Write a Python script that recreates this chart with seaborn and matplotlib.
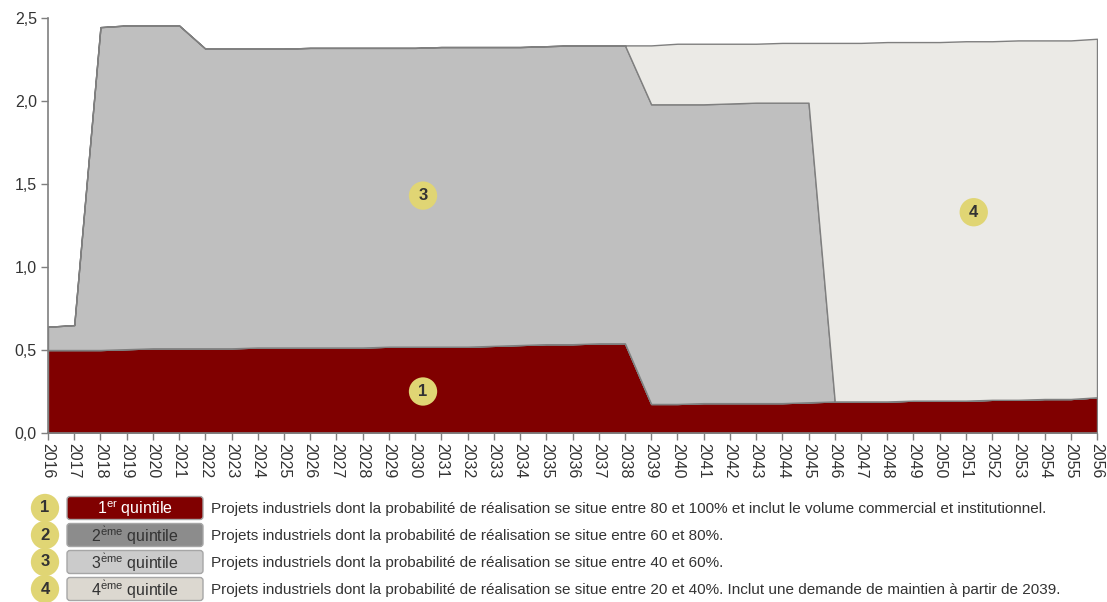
import matplotlib
matplotlib.use("Agg")
import matplotlib.pyplot as plt
from matplotlib.patches import FancyBboxPatch
from matplotlib.ticker import FuncFormatter, MultipleLocator
import seaborn as sns

# Years of the projection
years = list(range(2016, 2057))

# Volume per quintile (layer thickness)
q1 = [0.500, 0.500, 0.500, 0.505, 0.510, 0.510, 0.510, 0.510, 0.515, 0.515,
      0.515, 0.515, 0.515, 0.520, 0.520, 0.520, 0.520, 0.525, 0.530, 0.535,
      0.535, 0.540, 0.540,
      0.175, 0.175, 0.180, 0.180, 0.180, 0.180, 0.185, 0.190, 0.190, 0.190,
      0.195, 0.195, 0.195, 0.200, 0.200, 0.205, 0.205, 0.215]
q2 = [0.0] * 41
q3 = [0.140, 0.150, 1.945, 1.950, 1.945, 1.945, 1.805, 1.805, 1.800, 1.800,
      1.805, 1.805, 1.805, 1.800, 1.800, 1.805, 1.805, 1.800, 1.795, 1.795,
      1.800, 1.795, 1.795,
      1.805, 1.805, 1.800, 1.805, 1.810, 1.810, 1.805,
      0, 0, 0, 0, 0, 0, 0, 0, 0, 0, 0]
q4 = [0] * 23 + [0.355, 0.365, 0.365, 0.360, 0.355, 0.360, 0.360,
                 2.160, 2.160, 2.165, 2.160, 2.160, 2.165, 2.160, 2.165,
                 2.160, 2.160, 2.160]

quintile_labels = [r"1$^{\mathrm{er}}$ quintile", r"2$^{\mathrm{\grave{e}me}}$ quintile",
                   r"3$^{\mathrm{\grave{e}me}}$ quintile", r"4$^{\mathrm{\grave{e}me}}$ quintile"]
descriptions = [
    "Projets industriels dont la probabilité de réalisation se situe entre 80 et 100% et inclut le volume commercial et institutionnel.",
    "Projets industriels dont la probabilité de réalisation se situe entre 60 et 80%.",
    "Projets industriels dont la probabilité de réalisation se situe entre 40 et 60%.",
    "Projets industriels dont la probabilité de réalisation se situe entre 20 et 40%. Inclut une demande de maintien à partir de 2039.",
]

fills = ["#800000", "#8c8c8c", "#bfbfbf", "#ebeae6"]
legend_fills = ["#800000", "#8c8c8c", "#cbcbcb", "#dcd8d0"]
legend_text_colors = ["white", "#333333", "#333333", "#333333"]
badge = "#e0d574"
edge = "#7f7f7f"
text_col = "#333333"

sns.set_theme(style="white")
plt.rcParams["font.family"] = ["Liberation Sans", "DejaVu Sans"]
plt.rcParams["mathtext.fontset"] = "custom"
plt.rcParams["mathtext.rm"] = "Liberation Sans"

fig = plt.figure(figsize=(11.07, 6.02), dpi=100)
ax = fig.add_axes([48 / 1107, 1 - 433 / 602, (1097 - 48) / 1107, (433 - 18) / 602])

ax.stackplot(years, q1, q2, q3, q4, colors=fills, edgecolor=edge, linewidth=1.0)

ax.set_xlim(2016, 2056)
ax.set_ylim(0, 2.5)
ax.yaxis.set_major_locator(MultipleLocator(0.5))
ax.yaxis.set_major_formatter(FuncFormatter(lambda v, p: f"{v:.1f}".replace(".", ",")))
ax.set_xticks(years)
ax.set_xticklabels([str(y) for y in years], rotation=-90)
ax.tick_params(axis="both", which="major", length=5, width=1, color=edge,
               labelcolor=text_col, labelsize=11.5, direction="out",
               bottom=True, left=True)
ax.tick_params(axis="x", pad=2)
ax.tick_params(axis="y", pad=3)
for side in ("top", "right"):
    ax.spines[side].set_visible(False)
for side in ("left", "bottom"):
    ax.spines[side].set_color(edge)
    ax.spines[side].set_linewidth(1.2)
ax.grid(False)


def badge_text(x, y, label, transform):
    fig.text(x, y, label, transform=transform, ha="center", va="center",
             fontsize=12, fontweight="bold", color=text_col,
             bbox=dict(boxstyle="circle,pad=0.4", fc=badge, ec="none"))


# Numbered markers on the areas
badge_text(2030.3, 1.43, "3", ax.transData)
badge_text(2030.3, 0.25, "1", ax.transData)
badge_text(2051.3, 1.33, "4", ax.transData)

# Legend rows below the chart (positions in inches from the bottom-left)
row_y = [508, 535, 562, 589]
for i, yp in enumerate(row_y):
    yc = (602 - yp) / 100
    badge_text(45 / 100, yc, str(i + 1), fig.dpi_scale_trans)
    box = FancyBboxPatch((67 / 100, yc - 0.115), (203 - 67) / 100, 0.23,
                         boxstyle="round,pad=0,rounding_size=0.03",
                         transform=fig.dpi_scale_trans,
                         fc=legend_fills[i], ec="#a6a6a6", lw=1.0)
    fig.add_artist(box)
    fig.text(135 / 100, yc - 0.01, quintile_labels[i], transform=fig.dpi_scale_trans,
             ha="center", va="center", fontsize=11.5, color=legend_text_colors[i])
    fig.text(211 / 100, yc - 0.01, descriptions[i], transform=fig.dpi_scale_trans,
             ha="left", va="center", fontsize=11, color=text_col)

fig.savefig("out.png", dpi=100)
